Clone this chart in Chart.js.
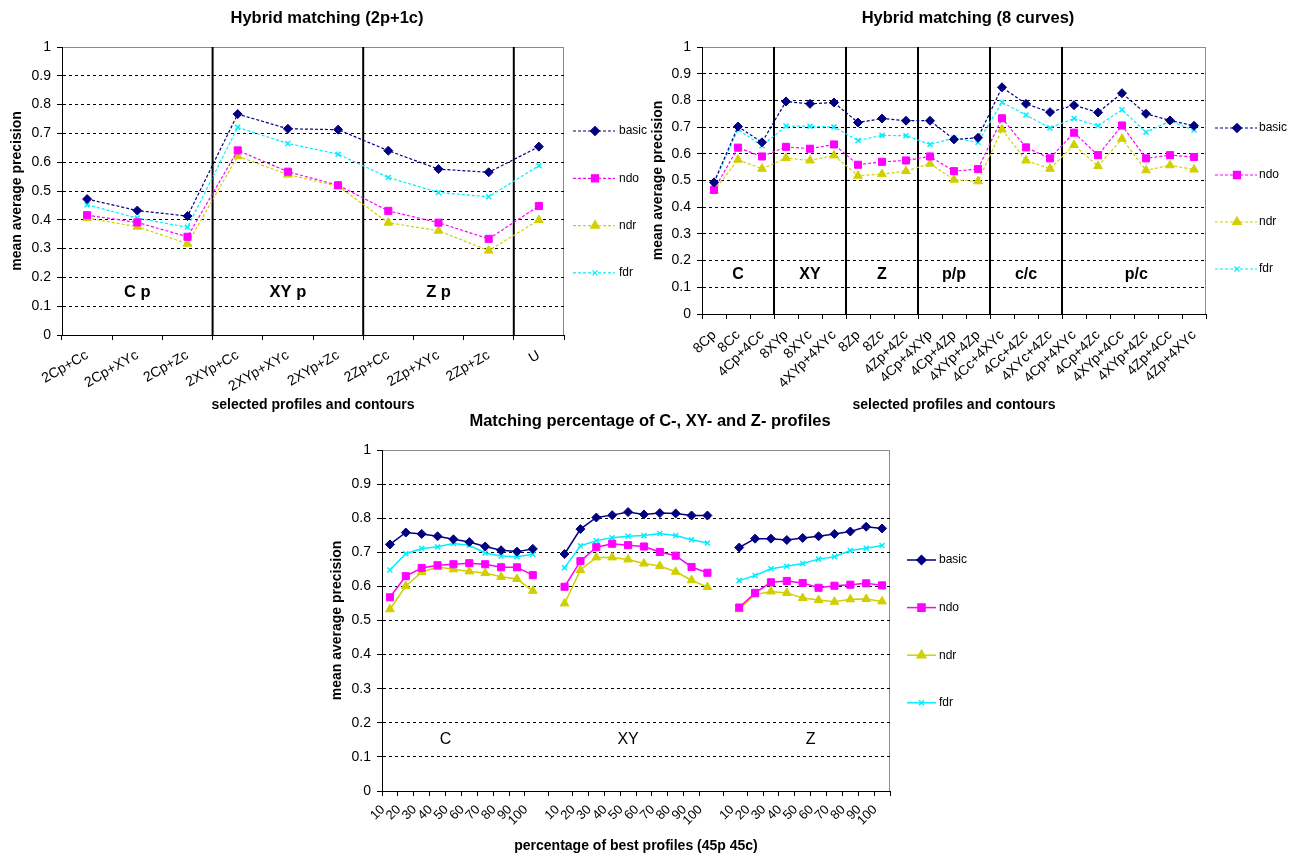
<!DOCTYPE html>
<html>
<head>
<meta charset="utf-8">
<script src="https://cdn.jsdelivr.net/npm/chart.js@4.4.1/dist/chart.umd.min.js"></script>
<style>
  body { margin: 0; background: #fff; width: 1298px; height: 856px; position: relative; overflow: hidden; }
  canvas { position: absolute; }
</style>
</head>
<body>
<canvas id="hybrid2p" style="left:0;top:0" width="650" height="420"></canvas>
<canvas id="hybrid8" style="left:650px;top:0" width="648" height="420"></canvas>
<canvas id="percent" style="left:325px;top:412px" width="650" height="444"></canvas>
<script>
// ---- data ----
var seriesNames = ['basic', 'ndo', 'ndr', 'fdr'];

// Hybrid matching (2p+1c)
var combosA = ['2Cp+Cc', '2Cp+XYc', '2Cp+Zc', '2XYp+Cc', '2XYp+XYc', '2XYp+Zc', '2Zp+Cc', '2Zp+XYc', '2Zp+Zc', 'U'];
var basicA = [0.472, 0.432, 0.413, 0.767, 0.716, 0.713, 0.640, 0.576, 0.565, 0.654];
var ndoA   = [0.416, 0.391, 0.341, 0.641, 0.567, 0.520, 0.431, 0.390, 0.334, 0.448];
var ndrA   = [0.406, 0.376, 0.317, 0.621, 0.557, 0.517, 0.390, 0.362, 0.293, 0.399];
var fdrA   = [0.452, 0.406, 0.374, 0.721, 0.665, 0.628, 0.547, 0.495, 0.480, 0.588];
var groupNamesA = ['C p', 'XY p', 'Z p'];
var groupPosA = [1, 4, 7];
var breaksA = [3, 6, 9];

// Hybrid matching (8 curves)
var combosB = ['8Cp', '8Cc', '4Cp+4Cc', '8XYp', '8XYc', '4XYp+4XYc', '8Zp', '8Zc', '4Zp+4Zc',
  '4Cp+4XYp', '4Cp+4Zp', '4XYp+4Zp', '4Cc+4XYc', '4Cc+4Zc', '4XYc+4Zc',
  '4Cp+4XYc', '4Cp+4Zc', '4XYp+4Cc', '4XYp+4Zc', '4Zp+4Cc', '4Zp+4XYc'];
var basicB = [0.493, 0.702, 0.643, 0.796, 0.787, 0.792, 0.717, 0.732, 0.724, 0.724, 0.654, 0.660, 0.849, 0.787, 0.756, 0.782, 0.755, 0.827, 0.750, 0.725, 0.705];
var ndoB   = [0.465, 0.623, 0.590, 0.626, 0.619, 0.635, 0.559, 0.570, 0.575, 0.590, 0.535, 0.543, 0.733, 0.624, 0.583, 0.679, 0.595, 0.706, 0.583, 0.595, 0.588];
var ndrB   = [0.461, 0.578, 0.544, 0.584, 0.575, 0.594, 0.518, 0.524, 0.535, 0.563, 0.503, 0.497, 0.691, 0.575, 0.544, 0.633, 0.554, 0.656, 0.538, 0.557, 0.541];
var fdrB   = [0.490, 0.691, 0.630, 0.704, 0.703, 0.700, 0.650, 0.669, 0.668, 0.635, 0.659, 0.643, 0.793, 0.745, 0.697, 0.732, 0.705, 0.765, 0.681, 0.722, 0.689];
var groupNamesB = ['C', 'XY', 'Z', 'p/p', 'c/c', 'p/c'];
var groupPosB = [1, 4, 7, 10, 13, 17.6];
var breaksB = [3, 6, 9, 12, 15];

// Matching percentage of C-, XY- and Z- profiles
var pctLabels = ['10', '20', '30', '40', '50', '60', '70', '80', '90', '100'];
var basicC  = [0.723, 0.758, 0.754, 0.747, 0.738, 0.730, 0.717, 0.706, 0.702, 0.710];
var ndoC    = [0.568, 0.630, 0.654, 0.662, 0.665, 0.668, 0.665, 0.656, 0.656, 0.633];
var ndrC    = [0.533, 0.601, 0.642, 0.657, 0.650, 0.644, 0.639, 0.628, 0.622, 0.587];
var fdrC    = [0.648, 0.696, 0.711, 0.716, 0.726, 0.721, 0.698, 0.689, 0.687, 0.694];
var basicXY = [0.695, 0.768, 0.802, 0.809, 0.818, 0.811, 0.815, 0.814, 0.808, 0.808];
var ndoXY   = [0.599, 0.674, 0.715, 0.725, 0.721, 0.717, 0.701, 0.690, 0.657, 0.640];
var ndrXY   = [0.550, 0.648, 0.685, 0.685, 0.679, 0.667, 0.660, 0.643, 0.618, 0.598];
var fdrXY   = [0.655, 0.719, 0.734, 0.743, 0.747, 0.749, 0.755, 0.749, 0.737, 0.727];
var basicZ  = [0.714, 0.740, 0.740, 0.736, 0.742, 0.747, 0.754, 0.761, 0.775, 0.770];
var ndoZ    = [0.538, 0.581, 0.612, 0.616, 0.610, 0.596, 0.602, 0.605, 0.609, 0.603];
var ndrZ    = [0.533, 0.576, 0.585, 0.581, 0.566, 0.560, 0.555, 0.562, 0.563, 0.556];
var fdrZ    = [0.617, 0.632, 0.652, 0.659, 0.667, 0.680, 0.687, 0.705, 0.712, 0.720];
var groupNamesC = ['C', 'XY', 'Z'];
var groupPosC = [3.5, 15, 26.5];

// ---- styling ----
Chart.defaults.font.family = "'Liberation Sans', Arial, sans-serif";
Chart.defaults.color = '#000';

var looks = {
  basic: { color: '#000080', point: 'rectRot', r: 4.5 },
  ndo:   { color: '#ff00ff', point: 'rect', r: 5 },
  ndr:   { color: '#d0d000', point: 'triangle', r: 5 },
  fdr:   { color: '#00eeff', point: 'crossRot', r: 3.5 }
};

function makeDatasets(valueLists, dashed) {
  return seriesNames.map(function(name, i) {
    var lk = looks[name];
    return {
      label: name,
      data: valueLists[i],
      borderColor: lk.color,
      backgroundColor: lk.color,
      borderWidth: dashed ? 1.2 : 1.5,
      borderDash: dashed ? [3, 2] : [],
      pointStyle: lk.point,
      pointRadius: lk.r,
      pointBackgroundColor: lk.color,
      pointBorderColor: lk.color,
      pointBorderWidth: lk.point === 'crossRot' ? 1.5 : 1,
      tension: 0,
      spanGaps: false
    };
  });
}

// gap (null) between the three percentage groups
function joinGroups(a, b, c) {
  return a.concat([null], b, [null], c);
}

// plot border, group separators, titles, group labels and Excel-like legend
var excelLook = {
  id: 'excelLook',
  beforeDraw: function(chart) {
    var a = chart.chartArea, ctx = chart.ctx;
    ctx.save();
    ctx.strokeStyle = '#8c8c8c';
    ctx.lineWidth = 1;
    ctx.strokeRect(a.left + 0.5, a.top + 0.5, a.right - a.left - 1, a.bottom - a.top);
    ctx.restore();
  },
  beforeDatasetsDraw: function(chart, args, o) {
    var x = chart.scales.x, a = chart.chartArea, ctx = chart.ctx;
    ctx.save();
    ctx.strokeStyle = '#000';
    ctx.lineWidth = 2;
    (o.breaks || []).forEach(function(b) {
      var px = (x.getPixelForValue(b - 1) + x.getPixelForValue(b)) / 2;
      ctx.beginPath();
      ctx.moveTo(px, a.top);
      ctx.lineTo(px, a.bottom);
      ctx.stroke();
    });
    ctx.restore();
  },
  afterDraw: function(chart, args, o) {
    var a = chart.chartArea, ctx = chart.ctx;
    var x = chart.scales.x, y = chart.scales.y;
    ctx.save();
    // title, centred on the whole chart object like Excel
    ctx.font = 'bold 16.5px ' + Chart.defaults.font.family;
    ctx.textAlign = 'center';
    ctx.textBaseline = 'middle';
    ctx.fillStyle = '#000';
    ctx.fillText(o.title, (a.left + a.right) / 2 + 14, o.titleY);

    // group labels inside the plot
    ctx.font = (o.groupBold ? 'bold ' : '') + o.groupSize + 'px ' + Chart.defaults.font.family;
    o.groupNames.forEach(function(t, i) {
      ctx.fillText(t, x.getPixelForValue(o.groupPos[i]), y.getPixelForValue(o.groupY));
    });

    // legend
    var L = o.legend;
    ctx.font = '12px ' + Chart.defaults.font.family;
    ctx.textAlign = 'left';
    chart.data.datasets.forEach(function(ds, i) {
      var ly = a.top + L.top + i * L.step;
      ctx.strokeStyle = ds.borderColor;
      ctx.fillStyle = ds.borderColor;
      ctx.lineWidth = ds.borderWidth;
      ctx.setLineDash(ds.borderDash);
      ctx.beginPath();
      ctx.moveTo(a.right + L.x0, ly);
      ctx.lineTo(a.right + L.x1, ly);
      ctx.stroke();
      ctx.setLineDash([]);
      Chart.helpers.drawPoint(ctx, {
        pointStyle: ds.pointStyle, radius: ds.pointRadius, rotation: 0, borderWidth: ds.pointBorderWidth
      }, a.right + L.mx, ly);
      ctx.fillStyle = '#000';
      ctx.fillText(ds.label, a.right + L.tx, ly);
    });
    ctx.restore();
  }
};

function buildChart(id, o) {
  return new Chart(document.getElementById(id), {
    type: 'line',
    data: { labels: o.labels, datasets: o.datasets },
    options: {
      responsive: false,
      animation: false,
      devicePixelRatio: 1,
      layout: { padding: { top: o.areaTop, right: o.padRight, left: 0, bottom: 0 } },
      plugins: {
        legend: { display: false },
        tooltip: { enabled: false },
        title: { display: false },
        excelLook: o.look
      },
      scales: {
        x: {
          type: 'category',
          offset: true,
          grid: { offset: true, drawOnChartArea: false, tickLength: 5, tickColor: '#000' },
          border: { color: '#000', width: 1 },
          ticks: {
            autoSkip: false, minRotation: o.rot, maxRotation: o.rot,
            padding: o.tickPad, labelOffset: o.labelShift, font: { size: o.xFont }
          },
          title: { display: true, text: o.xTitle, font: { size: 14, weight: 'bold' }, padding: { top: 0, bottom: o.xTitlePad } },
          afterFit: function(s) { s.height = o.xHeight; }
        },
        y: {
          min: 0,
          max: 1,
          ticks: {
            stepSize: 0.1,
            padding: 6,
            font: { size: 14 },
            callback: function(v) { return String(Math.round(v * 10) / 10); }
          },
          grid: {
            color: function(c) {
              var v = c.tick ? c.tick.value : 0;
              return (v < 0.01 || v > 0.99) ? 'rgba(0,0,0,0)' : '#000';
            },
            tickColor: '#000',
            tickLength: 5
          },
          border: { color: '#000', width: 1, dash: [3, 3] },
          title: { display: true, text: 'mean average precision', font: { size: 14, weight: 'bold' }, padding: { top: o.yTitlePad, bottom: 0 } },
          afterFit: function(s) { s.width = o.yWidth; }
        }
      }
    },
    plugins: [excelLook]
  });
}

buildChart('hybrid2p', {
  labels: combosA,
  datasets: makeDatasets([basicA, ndoA, ndrA, fdrA], true),
  areaTop: 47, padRight: 86, yWidth: 62, xHeight: 85,
  rot: 30, tickPad: 7, xFont: 14, labelShift: 0,
  xTitle: 'selected profiles and contours', xTitlePad: 6.6, yTitlePad: 8.6,
  look: {
    title: 'Hybrid matching (2p+1c)', titleY: 18,
    breaks: breaksA, groupNames: groupNamesA, groupPos: groupPosA, groupY: 0.147, groupBold: true, groupSize: 16.5,
    legend: { x0: 9, x1: 51, mx: 31, tx: 55, top: 84, step: 47.3 }
  }
});

buildChart('hybrid8', {
  labels: combosB,
  datasets: makeDatasets([basicB, ndoB, ndrB, fdrB], true),
  areaTop: 47, padRight: 92, yWidth: 52, xHeight: 106,
  rot: 45, tickPad: 8, xFont: 14, labelShift: 0,
  xTitle: 'selected profiles and contours', xTitlePad: 6.6, yTitlePad: 0,
  look: {
    title: 'Hybrid matching (8 curves)', titleY: 18,
    breaks: breaksB, groupNames: groupNamesB, groupPos: groupPosB, groupY: 0.147, groupBold: true, groupSize: 16,
    legend: { x0: 9, x1: 51, mx: 31, tx: 53, top: 81, step: 47 }
  }
});

buildChart('percent', {
  labels: joinGroups(pctLabels, pctLabels, pctLabels),
  datasets: makeDatasets([
    joinGroups(basicC, basicXY, basicZ),
    joinGroups(ndoC, ndoXY, ndoZ),
    joinGroups(ndrC, ndrXY, ndrZ),
    joinGroups(fdrC, fdrXY, fdrZ)
  ], false),
  areaTop: 38, padRight: 85, yWidth: 57, xHeight: 65,
  rot: 45, tickPad: 6, xFont: 13, labelShift: -7,
  xTitle: 'percentage of best profiles (45p 45c)', xTitlePad: 1, yTitlePad: 3.3,
  look: {
    title: 'Matching percentage of C-, XY- and Z- profiles', titleY: 9,
    breaks: [], groupNames: groupNamesC, groupPos: groupPosC, groupY: 0.152, groupBold: false, groupSize: 16,
    legend: { x0: 17, x1: 46, mx: 31.5, tx: 49, top: 110, step: 47.6 }
  }
});
</script>
</body>
</html>
